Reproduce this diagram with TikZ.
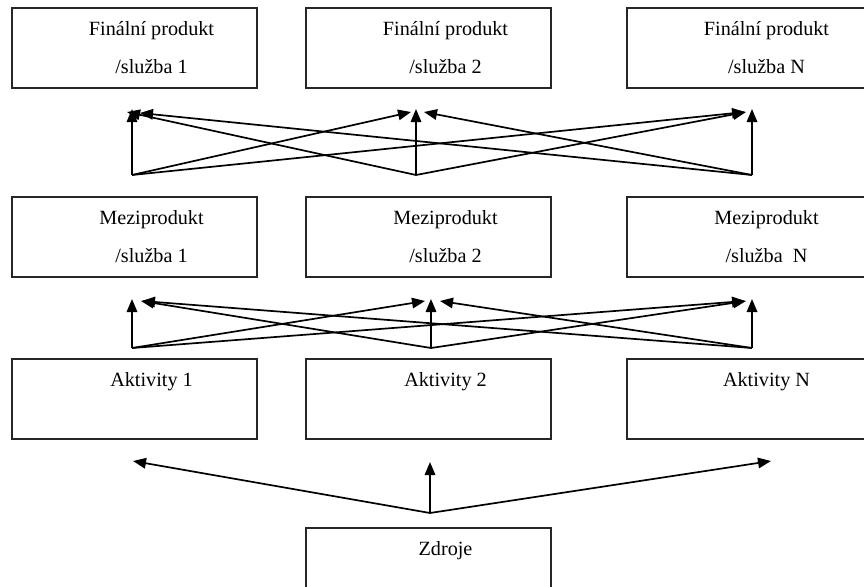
\documentclass[tikz,border=0pt]{standalone}
\usepackage{fontspec}
\setmainfont{Liberation Serif}
\usetikzlibrary{arrows.meta}
\begin{document}
\begin{tikzpicture}[x=1pt,y=-1pt,
  blok/.style={draw=black!85,line width=1.9pt,minimum width=245pt,minimum height=80pt,inner sep=0pt},
  popis/.style={align=center,inner sep=0pt,font=\fontsize{20.2}{38}\selectfont},
  sipka/.style={line width=1.7pt,-{Triangle[length=13pt,width=10.5pt]}}]
\useasboundingbox (0,0) rectangle (864,586);
\fill[white] (0,0) rectangle (864,586);

% boxes
\node[blok] (f1) at (134.5,48) {};
\node[blok] (f2) at (428.5,48) {};
\node[blok] (f3) at (749.5,48) {};
\node[blok] (m1) at (134.5,237) {};
\node[blok] (m2) at (428.5,237) {};
\node[blok] (m3) at (749.5,237) {};
\node[blok] (a1) at (134.5,399) {};
\node[blok] (a2) at (428.5,399) {};
\node[blok] (a3) at (749.5,399) {};
\node[blok] (z)  at (428.5,568) {};

% box texts
\node[popis,xshift=17pt,yshift=1pt] (tf1) at (f1) {\strut Finální produkt\\\strut/služba 1};
\node[popis,xshift=17pt,yshift=1pt] (tf2) at (f2) {\strut Finální produkt\\\strut/služba 2};
\node[popis,xshift=17pt,yshift=1pt] (tf3) at (f3) {\strut Finální produkt\\\strut/služba N};
\node[popis,xshift=17pt,yshift=1pt] (tm1) at (m1) {\strut Meziprodukt\\\strut/služba 1};
\node[popis,xshift=17pt,yshift=1pt] (tm2) at (m2) {\strut Meziprodukt\\\strut/služba 2};
\node[popis,xshift=17pt,yshift=1pt] (tm3) at (m3) {\strut Meziprodukt\\\strut/služba\ \ N};
\node[popis,xshift=17pt,yshift=1pt] (ta1) at (a1) {\strut Aktivity 1\\\strut};
\node[popis,xshift=17pt,yshift=1pt] (ta2) at (a2) {\strut Aktivity 2\\\strut};
\node[popis,xshift=17pt,yshift=1pt] (ta3) at (a3) {\strut Aktivity N\\\strut};
\node[popis,xshift=17pt,yshift=1pt] (tz)  at (z)  {\strut Zdroje\\\strut};

% upper arrow layer: intermediate -> final
\coordinate (u1) at (132,175);
\coordinate (u2) at (416,175);
\coordinate (u3) at (752,175);
\coordinate (v1) at (132,109);
\coordinate (v2) at (416,109);
\coordinate (v3) at (752,109);
\coordinate (v1b) at (127,112);
\coordinate (v1c) at (140,113);
\coordinate (v2a) at (411,112);
\coordinate (v2c) at (424,112);
\coordinate (v3a) at (745,112);
\coordinate (v3b) at (746,112);
\draw[sipka] (u1) -- (v1);
\draw[sipka] (u2) -- (v2);
\draw[sipka] (u3) -- (v3);
\draw[sipka] (u2) -- (v1b);
\draw[sipka] (u3) -- (v1c);
\draw[sipka] (u1) -- (v2a);
\draw[sipka] (u3) -- (v2c);
\draw[sipka] (u1) -- (v3a);
\draw[sipka] (u2) -- (v3b);

% middle arrow layer: activities -> intermediate
\coordinate (p1) at (132,348);
\coordinate (p2) at (431,348);
\coordinate (p3) at (752,348);
\coordinate (q1) at (132,299);
\coordinate (q2) at (431,299);
\coordinate (q3) at (752,299);
\coordinate (q1b) at (141,301);
\coordinate (q1c) at (142,301);
\coordinate (q2a) at (425,301);
\coordinate (q2c) at (440,301);
\coordinate (q3a) at (745,301);
\coordinate (q3b) at (746,301);
\draw[sipka] (p1) -- (q1);
\draw[sipka] (p2) -- (q2);
\draw[sipka] (p3) -- (q3);
\draw[sipka] (p2) -- (q1b);
\draw[sipka] (p3) -- (q1c);
\draw[sipka] (p1) -- (q2a);
\draw[sipka] (p3) -- (q2c);
\draw[sipka] (p1) -- (q3a);
\draw[sipka] (p2) -- (q3b);

% lower arrow layer: resources -> activities
\coordinate (r0) at (430,513);
\coordinate (r1) at (133,461);
\coordinate (r2) at (430,462);
\coordinate (r3) at (771,461);
\draw[sipka] (r0) -- (r1);
\draw[sipka] (r0) -- (r2);
\draw[sipka] (r0) -- (r3);
\end{tikzpicture}
\end{document}
